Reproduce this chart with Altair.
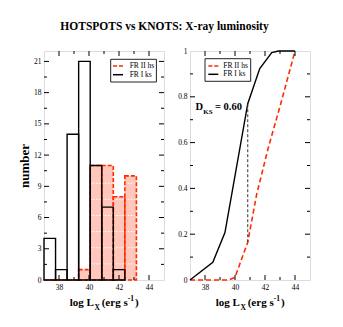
import altair as alt
import pandas as pd

# ---------------- data ----------------
bin_edges = [37.0, 37.77, 38.54, 39.31, 40.08, 40.85, 41.62, 42.39, 43.16]
fr1_counts = [4, 1, 14, 21, 11, 7, 1, 0]      # FR I ks (black)
fr2_counts = [0, 0, 0, 1, 11, 11, 8, 10]      # FR II hs (red)

fr1_cdf_x = [37.0, 38.52, 39.33, 40.85, 41.65, 42.45, 42.9, 44.0]
fr1_cdf_y = [0.0, 0.077, 0.207, 0.77, 0.923, 0.993, 1.0, 1.0]
fr2_cdf_x = [37.0, 39.6, 40.0, 40.85, 41.45, 42.23, 43.11, 44.0]
fr2_cdf_y = [0.0, 0.0, 0.012, 0.165, 0.376, 0.58, 0.784, 1.0]

d_ks_x = 40.85
d_ks_lo = 0.165
d_ks_hi = 0.77
d_ks_text = "= 0.60"

series = ["FR II hs", "FR I ks"]
title_text = "HOTSPOTS vs KNOTS: X-ray luminosity"

x_labels = [38, 40, 42, 44]
x_minor = [39, 41, 43]
hist_y_labels = [0, 3, 6, 9, 12, 15, 18, 21]
hist_y_minor = [1.5, 4.5, 7.5, 10.5, 13.5, 16.5, 19.5]
cdf_y_labels = [0, 0.2, 0.4, 0.6, 0.8, 1.0]
cdf_y_minor = [0.1, 0.3, 0.5, 0.7, 0.9]
hatch_step = 1.55

# ---------------- style ----------------
W, H = 120, 229
FONT = "Liberation Serif"
RED = "#FF2A00"
PINK = "#FFC6BB"
MAJ, MIN = 5, 3

xs = alt.Scale(domain=[37, 45], nice=False, zero=False)
ys_h = alt.Scale(domain=[0, 22], nice=False)
ys_c = alt.Scale(domain=[0, 1], nice=False)

x_axis = alt.Axis(values=x_labels, ticks=False, domain=False, grid=False,
                  labelFont=FONT, labelFontSize=7.5, labelPadding=3,
                  labelColor="black", title=None)


def ax_x(field):
    return alt.X(field, type="quantitative", scale=xs, axis=x_axis)


def one():
    return alt.Chart(pd.DataFrame({"a": [0]}))


def tick_layers(ys, y_axis, ymaj, ymin):
    layers = []
    xmaj_df = pd.DataFrame({"v": [v for v in x_labels]})
    xmin_df = pd.DataFrame({"v": x_minor})
    ymaj_df = pd.DataFrame({"w": ymaj})
    ymin_df = pd.DataFrame({"w": ymin})
    for df, ln in ((xmaj_df, MAJ), (xmin_df, MIN)):
        layers.append(alt.Chart(df).mark_rule(color="black", strokeWidth=1).encode(
            x=ax_x("v"), y=alt.value(H), y2=alt.value(H - ln)))
        layers.append(alt.Chart(df).mark_rule(color="black", strokeWidth=1).encode(
            x=ax_x("v"), y=alt.value(0), y2=alt.value(ln)))
    for df, ln in ((ymaj_df, MAJ), (ymin_df, MIN)):
        layers.append(alt.Chart(df).mark_rule(color="black", strokeWidth=1).encode(
            y=alt.Y("w:Q", scale=ys, axis=y_axis), x=alt.value(0), x2=alt.value(ln)))
        layers.append(alt.Chart(df).mark_rule(color="black", strokeWidth=1).encode(
            y=alt.Y("w:Q", scale=ys, axis=y_axis), x=alt.value(W), x2=alt.value(W - ln)))
    return layers


def xtitle_layers():
    base = H + 26
    pieces = [
        ("log L", 25.7, base, 11),
        ("X", 50.6, base + 3.5, 7.5),
        ("(erg s", 57.7, base, 11),
        ("-1", 83.7, base - 5, 7.5),
        (")", 91.0, base, 11),
    ]
    out = []
    for t, px, py, fs in pieces:
        out.append(one().mark_text(text=t, font=FONT, fontSize=fs, fontWeight="bold",
                                   align="left", baseline="alphabetic", color="black")
                   .encode(x=alt.value(px), y=alt.value(py)))
    return out


def legend_layers(bx0, bx1, by0, by1, lx0, lx1, tx, ry, ky):
    out = [one().mark_rect(fill="white", stroke="#222", strokeWidth=1).encode(
        x=alt.value(bx0), x2=alt.value(bx1), y=alt.value(by0), y2=alt.value(by1))]
    out.append(one().mark_rule(color=RED, strokeWidth=1.6, strokeDash=[4, 2]).encode(
        x=alt.value(lx0), x2=alt.value(lx1), y=alt.value(ry)))
    out.append(one().mark_rule(color="black", strokeWidth=1.5).encode(
        x=alt.value(lx0), x2=alt.value(lx1), y=alt.value(ky)))
    out.append(one().mark_text(text=series[0], font=FONT, fontSize=7.5, align="left",
                               baseline="middle", color="black")
               .encode(x=alt.value(tx), y=alt.value(ry)))
    out.append(one().mark_text(text=series[1], font=FONT, fontSize=7.5, align="left",
                               baseline="middle", color="black")
               .encode(x=alt.value(tx), y=alt.value(ky)))
    return out


# ---------------- left: histogram ----------------
hist = pd.DataFrame({
    "x0": bin_edges[:-1],
    "x1": bin_edges[1:],
    "fr1": fr1_counts,
    "fr2": fr2_counts,
})
hatch_rows = []
for a, b, c in zip(bin_edges[:-1], bin_edges[1:], fr2_counts):
    k = 1
    while k * hatch_step < c - 0.2:
        hatch_rows.append({"x0": a, "x1": b, "h": k * hatch_step})
        k += 1
hatch = pd.DataFrame(hatch_rows)

yh_axis = alt.Axis(values=hist_y_labels, ticks=False, domain=False, grid=False,
                   labelFont=FONT, labelFontSize=7.5, labelPadding=3, labelColor="black",
                   title="number", titleFont=FONT, titleFontSize=13, titleFontWeight="bold",
                   titlePadding=2, titleColor="black")


def yh(field):
    return alt.Y(field, type="quantitative", scale=ys_h, axis=yh_axis)


pink = alt.Chart(hist).mark_rect(fill=PINK, strokeWidth=0).encode(
    x=ax_x("x0"), x2="x1", y=yh("fr2"), y2=alt.datum(0))
hatch_l = alt.Chart(hatch).mark_rule(color="white", strokeWidth=1, strokeDash=[1.5, 1.5]).encode(
    x=ax_x("x0"), x2="x1", y=yh("h"))
red_out = alt.Chart(hist).mark_rect(fill=None, fillOpacity=0, stroke=RED, strokeWidth=1.6,
                                    strokeDash=[4, 2]).encode(
    x=ax_x("x0"), x2="x1", y=yh("fr2"), y2=alt.datum(0))
black_out = alt.Chart(hist[hist["fr1"] > 0]).mark_rect(fill=None, fillOpacity=0, stroke="black",
                                                       strokeWidth=1.4).encode(
    x=ax_x("x0"), x2="x1", y=yh("fr1"), y2=alt.datum(0))

left = alt.layer(
    pink, hatch_l, red_out, black_out,
    *tick_layers(ys_h, yh_axis, [3, 6, 9, 12, 15, 18, 21], hist_y_minor),
    *legend_layers(66.7, 112.4, 8.3, 31, 69, 79, 85.7, 15, 23.7),
    *xtitle_layers(),
).properties(width=W, height=H)

# ---------------- right: CDFs ----------------
cdf1 = pd.DataFrame({"x": fr1_cdf_x, "y": fr1_cdf_y, "o": range(len(fr1_cdf_x))})
cdf2 = pd.DataFrame({"x": fr2_cdf_x, "y": fr2_cdf_y, "o": range(len(fr2_cdf_x))})
dks = pd.DataFrame({"x": [d_ks_x], "lo": [d_ks_lo], "hi": [d_ks_hi]})

yc_axis = alt.Axis(values=cdf_y_labels, ticks=False, domain=False, grid=False, format="~g",
                   labelFont=FONT, labelFontSize=7.5, labelPadding=3, labelColor="black",
                   title=None)


def yc(field):
    return alt.Y(field, type="quantitative", scale=ys_c, axis=yc_axis)


line1 = alt.Chart(cdf1).mark_line(color="black", strokeWidth=1.4).encode(
    x=ax_x("x"), y=yc("y"), order="o:Q")
line2 = alt.Chart(cdf2).mark_line(color=RED, strokeWidth=1.6, strokeDash=[5, 3]).encode(
    x=ax_x("x"), y=yc("y"), order="o:Q")
dks_rule = alt.Chart(dks).mark_rule(color="#333", strokeWidth=1, strokeDash=[3, 2]).encode(
    x=ax_x("x"), y=yc("lo"), y2="hi")

dks_text = [
    one().mark_text(text="D", font=FONT, fontSize=10.5, fontWeight="bold", align="left",
                    baseline="alphabetic", color="black").encode(x=alt.value(5.5), y=alt.value(59.3)),
    one().mark_text(text="KS", font=FONT, fontSize=7, fontWeight="bold", align="left",
                    baseline="alphabetic", color="black").encode(x=alt.value(13.2), y=alt.value(62.5)),
    one().mark_text(text=d_ks_text, font=FONT, fontSize=10.5, fontWeight="bold", align="left",
                    baseline="alphabetic", color="black").encode(x=alt.value(25), y=alt.value(59.3)),
]

right = alt.layer(
    line2, line1, dks_rule,
    *tick_layers(ys_c, yc_axis, [0.2, 0.4, 0.6, 0.8], cdf_y_minor),
    *legend_layers(15, 60.7, 7.7, 30.3, 18.3, 28.3, 33.3, 15, 23.3),
    *dks_text,
    *xtitle_layers(),
).properties(width=W, height=H)

chart = alt.hconcat(left, right, spacing=12).properties(
    title=alt.TitleParams(title_text, font=FONT, fontSize=11.5, fontWeight="bold",
                          anchor="middle", color="black", offset=14),
    padding={"left": 10, "top": 13, "right": 5, "bottom": 5},
).configure_view(stroke="black", strokeWidth=1.2).configure(background="white")

chart.save("out.html", embed_options={"renderer": "svg", "actions": False})
